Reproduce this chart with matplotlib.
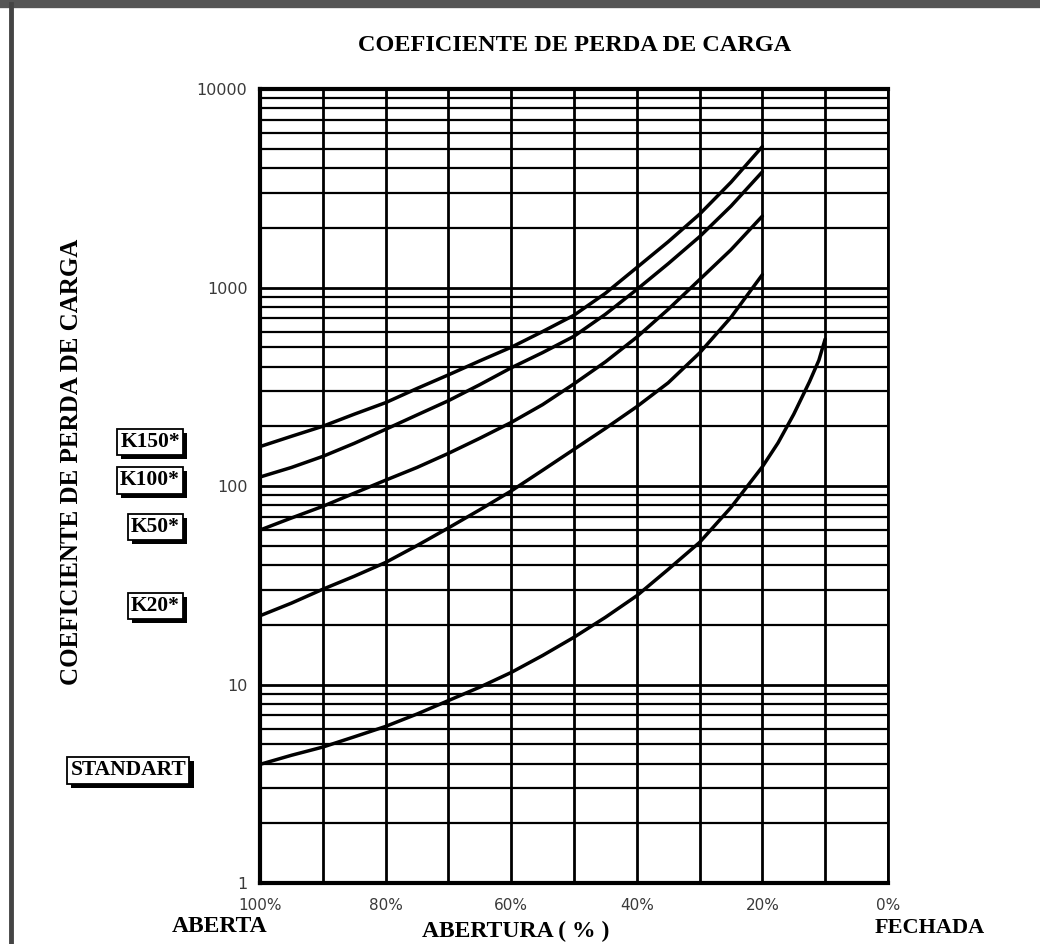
import matplotlib
matplotlib.use("Agg")
import matplotlib.pyplot as plt
import matplotlib.patheffects as pe
from matplotlib.lines import Line2D
from matplotlib.ticker import LogLocator, FixedLocator, NullFormatter

# ================================
# Data (abertura in %, coeficiente K)
# ================================
abertura_k = [100, 95, 90, 85, 80, 75, 70, 65, 60, 55, 50, 45, 40, 35, 30, 25, 20]
k150 = [158, 178, 200, 230, 263, 310, 363, 427, 500, 600, 725, 935, 1260, 1700, 2340, 3390, 5130]
k100 = [111, 124, 141, 164, 193, 228, 269, 324, 394, 470, 568, 733, 977, 1318, 1803, 2570, 3828]
k50 = [60, 69, 79, 92, 107, 124, 146, 174, 209, 257, 327, 422, 562, 776, 1096, 1549, 2291]
k20 = [22.2, 25.7, 30.2, 35.1, 41.2, 50.1, 61.5, 75.9, 94.4, 120, 153, 195, 251, 331, 468, 708, 1161]

abertura_std = [100, 95, 90, 85, 80, 75, 70, 65, 60, 55, 50, 45, 40, 35, 30, 25, 20,
                17.5, 15, 12.5, 11, 10]
standart = [3.96, 4.4, 4.84, 5.45, 6.15, 7.1, 8.3, 9.7, 11.5, 14.0, 17.3, 21.8, 28, 38, 52,
            78, 125, 165, 230, 335, 430, 550]

x_ticks = [100, 90, 80, 70, 60, 50, 40, 30, 20, 10, 0]
x_labels = ["100%", "", "80%", "", "60%", "", "40%", "", "20%", "", "0%"]
y_ticks = [1, 10, 100, 1000, 10000]
y_labels = ["1", "10", "100", "1000", "10000"]

curve_names = ["K150*", "K100*", "K50*", "K20*", "STANDART"]

serif = "Liberation Serif"
sans = "DejaVu Sans"

fig = plt.figure(figsize=(10.4, 9.44), dpi=100)
ax = fig.add_axes([0.25, 0.0646, 0.6038, 0.8411])

# curves
for yk in [k150, k100, k50, k20]:
    ax.plot(abertura_k, yk, color="black", lw=2.5, solid_capstyle="round")
ax.plot(abertura_std, standart, color="black", lw=2.5, solid_capstyle="round")

ax.set_yscale("log")
ax.set_ylim(1, 10000)
ax.set_xlim(100, 0)

ax.xaxis.set_major_locator(FixedLocator(x_ticks))
ax.set_xticklabels(x_labels)
ax.yaxis.set_major_locator(FixedLocator(y_ticks))
ax.set_yticklabels(y_labels)
ax.yaxis.set_minor_locator(LogLocator(base=10, subs=range(2, 10)))
ax.yaxis.set_minor_formatter(NullFormatter())

ax.grid(True, which="major", axis="both", color="black", lw=2.0)
ax.grid(True, which="minor", axis="y", color="black", lw=1.6)
ax.tick_params(which="both", length=0)
ax.tick_params(axis="x", pad=11, labelsize=11, labelcolor="#3a3a3a")
ax.tick_params(axis="y", pad=9, labelsize=11.5, labelcolor="#3a3a3a")
for lab in ax.get_xticklabels() + ax.get_yticklabels():
    lab.set_family(sans)

for side in ["left", "bottom", "top"]:
    ax.spines[side].set_linewidth(3)
ax.spines["right"].set_linewidth(2)

# titles
fig.text(0.553, 0.952, "COEFICIENTE DE PERDA DE CARGA", ha="center", va="center",
         family=serif, weight="bold", fontsize=17.5)
fig.text(0.069, 0.511, "COEFICIENTE DE PERDA DE CARGA", ha="center", va="center",
         rotation=90, family=serif, weight="bold", fontsize=18)
fig.text(0.211, 0.019, "ABERTA", ha="center", va="center",
         family=serif, weight="bold", fontsize=17)
fig.text(0.4955, 0.013, "ABERTURA ( % )", ha="center", va="center",
         family=serif, weight="bold", fontsize=17)
fig.text(0.894, 0.017, "FECHADA", ha="center", va="center",
         family=serif, weight="bold", fontsize=16)

# curve labels in boxes with drop shadow
label_pos = [(0.173, 0.532), (0.173, 0.491), (0.173, 0.442), (0.173, 0.358), (0.179, 0.184)]
for name, (lx, ly) in zip(curve_names, label_pos):
    t = fig.text(lx, ly, name, ha="right", va="center", family=serif, weight="bold",
                 fontsize=15.5,
                 bbox=dict(boxstyle="square,pad=0.15", fc="white", ec="black", lw=1.3))
    t.get_bbox_patch().set_path_effects(
        [pe.SimplePatchShadow(offset=(3, -3), shadow_rgbFace="black", alpha=1.0), pe.Normal()])

# page frame
fig.add_artist(Line2D([0, 1], [0.996, 0.996], transform=fig.transFigure,
                      color="#555555", lw=6))
fig.add_artist(Line2D([0.0105, 0.0105], [0, 0.996], transform=fig.transFigure,
                      color="#444444", lw=3.5))

fig.savefig("out.png", dpi=100)
